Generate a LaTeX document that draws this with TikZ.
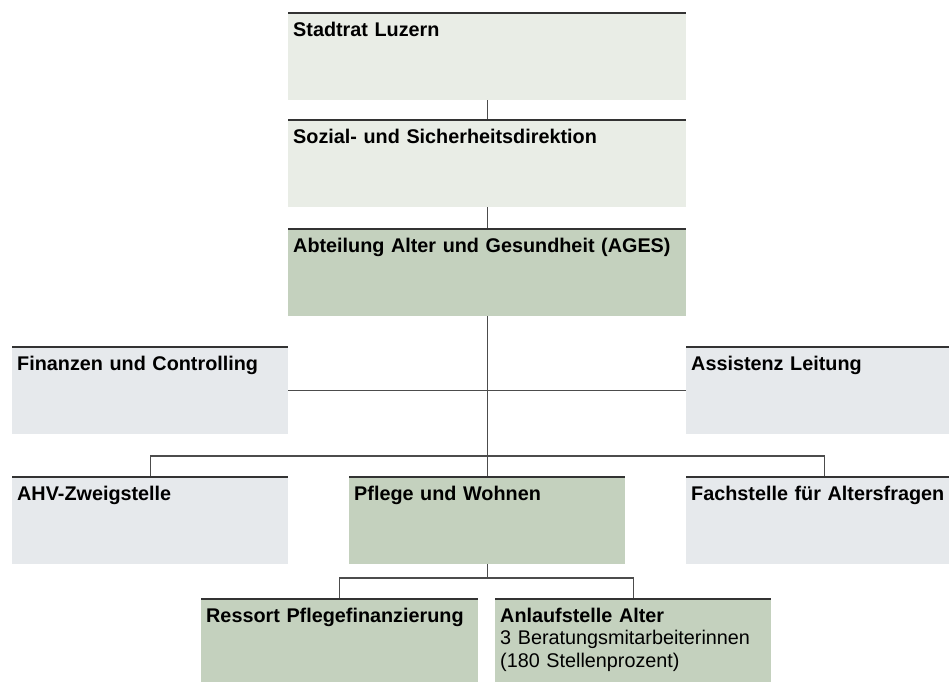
\documentclass[tikz,border=0pt]{standalone}
\usepackage{fontspec}
\setmainfont{Liberation Sans}
\definecolor{palegreen}{HTML}{E9EDE6}
\definecolor{palegrey}{HTML}{E6E9EC}
\definecolor{sagegreen}{HTML}{C4D1BE}
\begin{document}
\begin{tikzpicture}[x=1pt,y=-1pt,
orgbox/.style={anchor=north west,inner xsep=5pt,inner ysep=0pt,text width=#1,text height=24pt,text depth=64pt,align=left,font=\fontsize{19.8}{22.5}\selectfont,
 path picture={\draw[line width=3pt,black!80] (path picture bounding box.north west)--(path picture bounding box.north east);}},
link/.style={line width=1.1pt,black!70}]
\def\w{266pt}
\useasboundingbox (0,0) rectangle (949,681);
\clip (0,0) rectangle (949,681);
% leadership
\node[orgbox=388pt,fill=palegreen] (stadtrat) at (288,12) {\textbf{Stadtrat Luzern}};
\node[orgbox=388pt,fill=palegreen] (direktion) at (288,119) {\textbf{Sozial- und Sicherheitsdirektion}};
\node[orgbox=388pt,fill=sagegreen] (ages) at (288,228) {\textbf{Abteilung Alter und Gesundheit (AGES)}};
% staff
\node[orgbox=\w,fill=palegrey] (finanzen) at (12,346) {\textbf{Finanzen und Controlling}};
\node[orgbox=\w,fill=palegrey] (assistenz) at (686,346) {\textbf{Assistenz Leitung}};
% units
\node[orgbox=\w,fill=palegrey] (ahv) at (12,476) {\textbf{AHV-Zweigstelle}};
\node[orgbox=\w,fill=sagegreen] (pflege) at (349,476) {\textbf{Pflege und Wohnen}};
\node[orgbox=\w,fill=palegrey] (fachstelle) at (686,476) {\textbf{Fachstelle für Altersfragen}};
\node[orgbox=267pt,fill=sagegreen] (ressort) at (201,598) {\textbf{Ressort Pflegefinanzierung}};
\node[orgbox=\w,fill=sagegreen] (anlauf) at (495,598) {\textbf{Anlaufstelle Alter}\\3 Beratungsmitarbeiterinnen\\(180 Stellenprozent)};
% connectors
\foreach \a/\b in {stadtrat/direktion,direktion/ages,ages/pflege}{\draw[link] (\a.south)--(\b.north);
}
\draw[link] (finanzen.east)--(assistenz.west);
\draw[link] (ahv.north)--++(0,-20) coordinate (ahvjoin) -| (fachstelle.north);
\draw[link] (ressort.north)--++(0,-20) coordinate (pflegejoin) -| (anlauf.north);
\draw[link] (pflege.south)--(pflege.south |- pflegejoin);
\end{tikzpicture}
\end{document}
